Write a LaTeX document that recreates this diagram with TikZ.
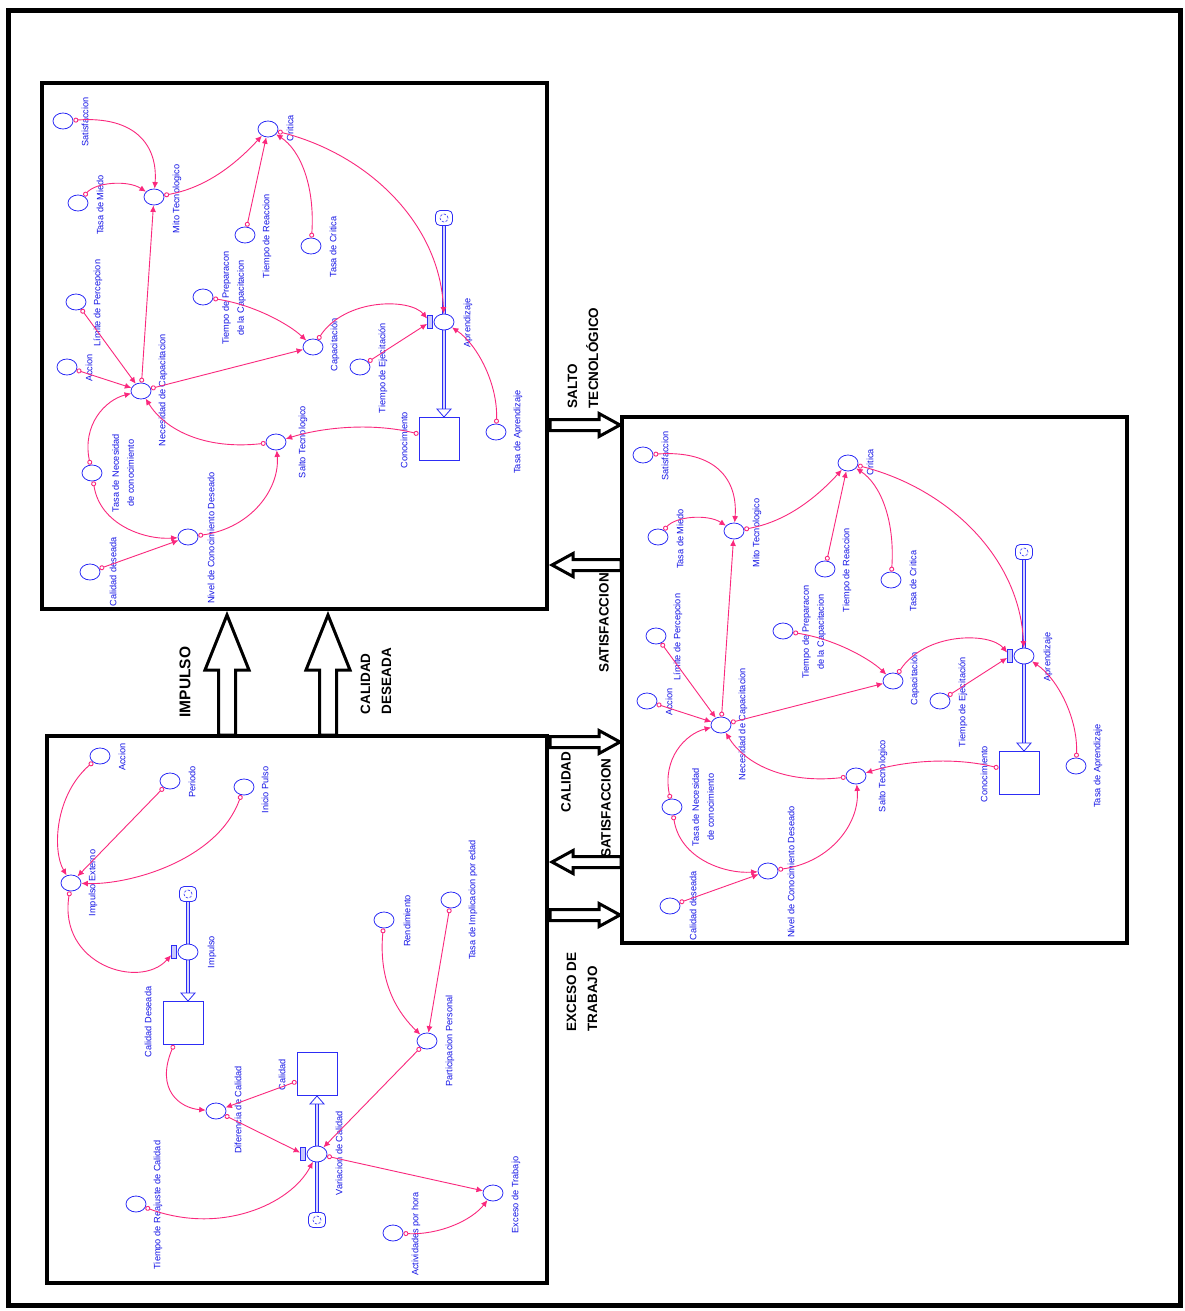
\documentclass[tikz,border=0pt]{standalone}
\usepackage{fontspec}
\setmainfont{Liberation Sans}
\usetikzlibrary{shapes.geometric,arrows.meta,calc,backgrounds}
\definecolor{vblue}{RGB}{45,45,245}
\definecolor{tblue}{RGB}{20,20,230}
\definecolor{lpink}{RGB}{250,40,125}
\tikzset{
 aux/.style={draw=vblue, line width=0.8pt, ellipse, minimum width=20pt, minimum height=16pt, inner sep=0pt, fill=white},
 stockbox/.style={draw=vblue, line width=0.9pt, rectangle, minimum width=40pt, minimum height=43pt, inner sep=0pt, fill=white},
 cloudbox/.style={draw=vblue, line width=0.8pt, rounded corners=4.5pt, minimum width=17pt, minimum height=15pt, inner sep=0pt, fill=white,
   path picture={\draw[vblue, line width=0.6pt, dash pattern=on 2.5pt off 1.5pt] (path picture bounding box.center) circle (4pt);}},
 valvebox/.style={draw=vblue, line width=0.8pt, minimum width=5pt, minimum height=13pt, inner sep=0pt, fill=vblue!25},
 lbl/.style={text=tblue, font=\fontsize{9.2}{15}\selectfont, rotate=90, inner sep=0pt, align=center},
 link/.style={draw=lpink, line width=0.9pt, {Circle[open,length=5pt,width=5pt,line width=0.9pt]}-{Latex[length=6.5pt,width=6pt]}},
 pipe/.style={draw=vblue, line width=0.9pt, double=vblue!20, double distance=2.8pt},
 pipehead/.style={draw=vblue, line width=0.8pt, fill=white, line join=miter},
 framebox/.style={draw=black, line width=3.5pt, inner sep=0pt, fill=none},
 bigarrow/.style={draw=black, line width=3pt, fill=white, line join=miter},
 biglbl/.style={font=\bfseries\fontsize{13.5}{21}\selectfont, rotate=90, align=left, inner sep=0pt},
}
% knowledge model, #1 = name prefix
\newcommand\knowmodel[1]{%
 \node[framebox, minimum width=505pt, minimum height=526pt] (#1box) at (294.5,346) {};
 \node[aux] (#1sat) at (63,121) {}; \node[lbl] (#1Lsat) at (85,122) {Satisfaccion};
 \node[aux] (#1miedo) at (78,203) {}; \node[lbl] (#1Lmiedo) at (100,205) {Tasa de Miedo};
 \node[aux] (#1mito) at (154,197) {}; \node[lbl] (#1Lmito) at (177,199) {Mito Tecnologico};
 \node[aux] (#1crit) at (268,129) {}; \node[lbl] (#1Lcrit) at (290,128) {Critica};
 \node[aux] (#1reac) at (245,235) {}; \node[lbl] (#1Lreac) at (267,236) {Tiempo de Reaccion};
 \node[aux] (#1tcrit) at (311,246) {}; \node[lbl] (#1Ltcrit) at (333,247) {Tasa de Critica};
 \node[aux] (#1lim) at (76,302) {}; \node[lbl] (#1Llim) at (98,303) {Límite de Percepcion};
 \node[aux] (#1prep) at (203,297) {}; \node[lbl] (#1Lprep) at (234,298) {Tiempo de Preparacon\\de la Capacitacion};
 \node[aux] (#1acc) at (67,367) {}; \node[lbl] (#1Lacc) at (89,368) {Accion};
 \node[aux] (#1nec) at (141,391) {}; \node[lbl] (#1Lnec) at (163,390) {Necesidad de Capacitacion};
 \node[aux] (#1cap) at (313,347) {}; \node[lbl] (#1Lcap) at (335,345) {Capacitación};
 \node[aux] (#1ejec) at (360,367) {}; \node[lbl] (#1Lejec) at (383,368) {Tiempo de Ejecitación};
 \node[cloudbox] (#1cloud) at (444,218) {};
 \node[aux] (#1apr) at (444,322) {}; \node[valvebox] (#1aprv) at (430,322) {};
 \node[lbl] (#1Lapr) at (468,323) {Aprendizaje};
 \node[stockbox] (#1conoc) at (439,439) {}; \node[lbl] (#1Lconoc) at (404,440) {Conocimiento};
 \node[aux] (#1tapr) at (496,432) {}; \node[lbl] (#1Ltapr) at (518,432) {Tasa de Aprendizaje};
 \node[aux] (#1salto) at (276,442) {}; \node[lbl] (#1Lsalto) at (303,442) {Salto Tecnologico};
 \node[aux] (#1tnec) at (92,473) {}; \node[lbl] (#1Ltnec) at (123,473) {Tasa de Necesidad\\de conocimiento};
 \node[aux] (#1nivel) at (188,537) {}; \node[lbl] (#1Lnivel) at (211,538) {Nivel de Conocimiento Deseado};
 \node[aux] (#1cald) at (90,572) {}; \node[lbl] (#1Lcald) at (113,572) {Calidad deseada};
 \coordinate (#1tipK) at (#1cloud |- #1conoc.north);
 \begin{scope}[on background layer]
  \draw[pipe, shorten >=7pt] (#1cloud) -- (#1tipK);
 \end{scope}
 \draw[pipehead] ($(#1tipK)+(-7,-8)$) -- (#1tipK) -- ($(#1tipK)+(7,-8)$) -- cycle;
 \draw[link] (#1sat) .. controls (135,116) and (158,145) .. (#1mito);
 \draw[link] (#1miedo) .. controls (96,182) and (128,180) .. (#1mito);
 \draw[link] (#1nec) -- (#1mito);
 \draw[link] (#1mito) .. controls (205,188) and (235,165) .. (#1crit);
 \draw[link] (#1reac) -- (#1crit);
 \draw[link] (#1tcrit) .. controls (315,185) and (300,150) .. (#1crit);
 \draw[link] (#1crit) .. controls (370,155) and (440,225) .. (#1apr);
 \draw[link] (#1lim) -- (#1nec);
 \draw[link] (#1acc) -- (#1nec);
 \draw[link] (#1tnec) .. controls (82,425) and (105,400) .. (#1nec);
 \draw[link] (#1tnec) .. controls (100,525) and (145,540) .. (#1nivel);
 \draw[link] (#1cald) -- (#1nivel);
 \draw[link] (#1nivel) .. controls (252,528) and (280,488) .. (#1salto);
 \draw[link] (#1salto) .. controls (205,450) and (165,430) .. (#1nec);
 \draw[link] (#1conoc) .. controls (370,422) and (320,428) .. (#1salto);
 \draw[link] (#1nec) -- (#1cap);
 \draw[link] (#1prep) .. controls (255,305) and (290,325) .. (#1cap);
 \draw[link] (#1cap) .. controls (345,298) and (410,298) .. (#1aprv);
 \draw[link] (#1ejec) -- (#1aprv);
 \draw[link] (#1tapr) .. controls (498,385) and (478,345) .. (#1apr);
}
\newcommand\uparr[1]{\draw[bigarrow] (#1-8.5,735) -- (#1-8.5,670) -- (#1-22,670) -- (#1,615) -- (#1+22,670) -- (#1+8.5,670) -- (#1+8.5,735) -- cycle;}
\newcommand\rarr[1]{\draw[bigarrow] (550,#1-5.5) -- (599,#1-5.5) -- (599,#1-11.5) -- (620,#1) -- (599,#1+11.5) -- (599,#1+5.5) -- (550,#1+5.5) -- cycle;}
\newcommand\larr[1]{\draw[bigarrow] (621,#1-5.5) -- (573,#1-5.5) -- (573,#1-11.5) -- (552,#1) -- (573,#1+11.5) -- (573,#1+5.5) -- (621,#1+5.5) -- cycle;}
\begin{document}
\begin{tikzpicture}[x=1pt,y=-1pt]
\useasboundingbox (0,0) rectangle (1184,1311);
\begin{scope}[on background layer]
 \fill[white] (0,0) rectangle (1184,1311);
\end{scope}
\draw[line width=5pt] (8.5,10.5) rectangle (1180,1305.5);
% top-left model
\knowmodel{A}
% right model (copy)
\begin{scope}[shift={(580,334)}]
 \knowmodel{B}
\end{scope}
% bottom-left model
\node[framebox, minimum width=500pt, minimum height=547pt] (Cbox) at (297,1009.5) {};
\node[aux] (acc2) at (100,756) {}; \node[lbl] (Lacc2) at (122,757) {Accion};
\node[aux] (per) at (170,781) {}; \node[lbl] (Lper) at (192,782) {Periodo};
\node[aux] (ini) at (244,787) {}; \node[lbl] (Lini) at (265,790) {Inicio Pulso};
\node[aux] (iext) at (71,883) {}; \node[lbl] (Liext) at (93,883) {Impulso Externo};
\node[cloudbox] (cloudI) at (188,894) {};
\node[aux] (imp) at (188,952) {}; \node[valvebox] (impv) at (174,952) {};
\node[lbl] (Limp) at (212,952) {Impulso};
\node[stockbox] (cdes) at (183,1023) {}; \node[lbl] (Lcdes) at (148,1022) {Calidad Deseada};
\node[aux] (dif) at (216,1111) {}; \node[lbl] (Ldif) at (238,1110) {Diferencia de Calidad};
\node[stockbox] (cal) at (317,1074) {}; \node[lbl] (Lcal) at (282,1075) {Calidad};
\node[aux] (var) at (317,1154) {}; \node[valvebox] (varv) at (303,1154) {};
\node[lbl] (Lvar) at (339,1153) {Variacion de Calidad};
\node[cloudbox] (cloudV) at (317,1220) {};
\node[aux] (treaj) at (136,1204) {}; \node[lbl] (Ltreaj) at (158,1205) {Tiempo de Reajuste de Calidad};
\node[aux] (part) at (427,1041) {}; \node[lbl] (Lpart) at (450,1041) {Participacion Personal};
\node[aux] (rend) at (384,920) {}; \node[lbl] (Lrend) at (407,921) {Rendimiento};
\node[aux] (timpl) at (451,900) {}; \node[lbl] (Ltimpl) at (473,900) {Tasa de Implicacion por edad};
\node[aux] (exc) at (493,1193) {}; \node[lbl] (Lexc) at (516,1195) {Exceso de Trabajo};
\node[aux] (act) at (393,1233) {}; \node[lbl] (Lact) at (416,1234) {Actividades por hora};
\coordinate (tipD) at (cloudI |- cdes.north);
\coordinate (tipC) at (cloudV |- cal.south);
\begin{scope}[on background layer]
 \draw[pipe, shorten >=7pt] (cloudI) -- (tipD);
 \draw[pipe, shorten >=7pt] (cloudV) -- (tipC);
\end{scope}
\draw[pipehead] ($(tipD)+(-7,-8)$) -- (tipD) -- ($(tipD)+(7,-8)$) -- cycle;
\draw[pipehead] ($(tipC)+(-7,8)$) -- (tipC) -- ($(tipC)+(7,8)$) -- cycle;
\draw[link] (acc2) .. controls (55,795) and (52,850) .. (iext);
\draw[link] (per) -- (iext);
\draw[link] (ini) .. controls (218,860) and (130,885) .. (iext);
\draw[link] (iext) .. controls (58,965) and (140,990) .. (impv);
\draw[link] (cdes) .. controls (155,1090) and (180,1108) .. (dif);
\draw[link] (cal) -- (dif);
\draw[link] (dif) -- (varv);
\draw[link] (treaj) .. controls (220,1235) and (290,1205) .. (var);
\draw[link] (part) -- (var);
\draw[link] (rend) .. controls (378,985) and (400,1015) .. (part);
\draw[link] (timpl) -- (part);
\draw[link] (var) -- (exc);
\draw[link] (act) .. controls (440,1235) and (472,1220) .. (exc);
% big arrows between models
\uparr{227}
\uparr{328}
\rarr{425}
\larr{565}
\rarr{742}
\larr{862}
\rarr{915}
\node[biglbl, font=\bfseries\fontsize{15.5}{21}\selectfont] (Limpulso) at (185,682) {IMPULSO};
\node[biglbl] (Lcaldes) at (376,681) {CALIDAD\\DESEADA};
\node[biglbl] (Lsaltot) at (583,358) {SALTO\\TECNOLÓGICO};
\node[biglbl] (Lsatis) at (604,623) {SATISFACCION};
\node[biglbl] (Lcalidad) at (566,782) {CALIDAD};
\node[biglbl] (Lsatis2) at (606,808) {SATISFACCION};
\node[biglbl] (Lexceso) at (582,992) {EXCESO DE\\TRABAJO};
\end{tikzpicture}
\end{document}
